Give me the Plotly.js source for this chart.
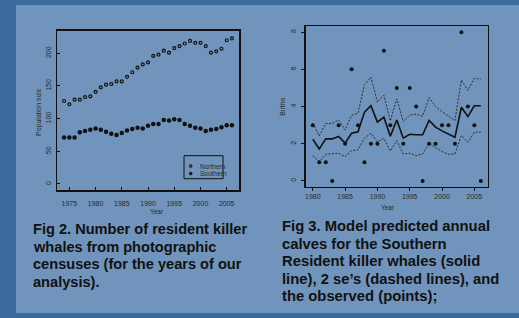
<!DOCTYPE html>
<html>
<head>
<meta charset="utf-8">
<script src="https://cdn.plot.ly/plotly-3.0.1.min.js"></script>
<style>
html,body{margin:0;padding:0;background:#3b6a9e;}
#chart{width:519px;height:318px;}
</style>
</head>
<body>
<div id="chart"></div>
<script>
// ---- Fig 2 data: population size ----
const popYears = [1974,1975,1976,1977,1978,1979,1980,1981,1982,1983,1984,1985,1986,1987,1988,1989,1990,1991,1992,1993,1994,1995,1996,1997,1998,1999,2000,2001,2002,2003,2004,2005,2006];
const northern = [127,122,129,129,133,134,141,148,152,153,157,157,164,171,178,183,186,196,198,204,201,208,211,215,219,216,216,211,201,203,207,220,223];
const southern = [71,71,71,79,81,83,85,83,80,77,75,78,82,84,86,85,89,92,92,98,97,99,98,92,89,86,85,81,83,84,87,90,90];

// ---- Fig 3 data: births ----
const birthYears = [1980,1981,1982,1983,1984,1985,1986,1987,1988,1989,1990,1991,1992,1993,1994,1995,1996,1997,1998,1999,2000,2001,2002,2003,2004,2005,2006];
const observed  = [3,1,1,0,3,2,6,3,1,2,2,7,3,5,2,5,4,0,2,2,3,3,2,8,4,3,0];
const predicted = [2.24,1.72,2.26,2.26,2.39,2.03,2.56,2.64,3.70,4.05,3.16,3.43,2.40,3.28,2.30,2.51,2.48,2.48,3.25,2.89,2.69,2.51,2.35,3.96,3.46,4.04,4.04];
const upper2se  = [3.10,2.42,3.09,3.09,3.28,2.74,3.52,3.64,5.17,5.58,4.23,4.61,3.23,4.41,3.19,3.55,3.59,3.48,4.48,4.00,3.73,3.50,3.25,5.43,4.86,5.52,5.47];
const lower2se  = [1.35,1.04,1.43,1.47,1.49,1.31,1.63,1.67,2.30,2.56,2.10,2.28,1.61,2.17,1.45,1.49,1.36,1.45,2.03,1.79,1.58,1.43,1.45,2.44,2.08,2.62,2.62];

const popTicks = [0,50,100,150,200];
const popXTicks = [1975,1980,1985,1990,1995,2000,2005];
const birthTicks = [0,2,4,6,8];
const birthXTicks = [1980,1985,1990,1995,2000,2005];

const caption2 = ["Fig 2.", "Number of resident killer", "whales from photographic", "censuses (for the years of our", "analysis)."];
const caption3 = ["Fig 3. Model predicted annual", "calves for the Southern", "Resident killer whales (solid", "line), 2 se’s (dashed lines), and", "the observed (points);"];

const W = 519, H = 318;
const px = x => x / W;
const py = y => 1 - y / H;

const ink = '#111';
const fam = 'Liberation Sans, Arial, sans-serif';
const tickFont = {family: fam, size: 7, color: '#2a2a2a'};

const traces = [
  {x: popYears, y: northern, type: 'scatter', mode: 'markers', name: 'Northern', xaxis: 'x', yaxis: 'y',
   marker: {symbol: 'circle-open', size: 3, color: ink, line: {width: 1.2, color: ink}}},
  {x: popYears, y: southern, type: 'scatter', mode: 'markers', name: 'Southern', xaxis: 'x', yaxis: 'y',
   marker: {symbol: 'circle', size: 4.5, color: ink}},
  {x: birthYears, y: upper2se, type: 'scatter', mode: 'lines', xaxis: 'x2', yaxis: 'y2',
   line: {color: '#2b2b2b', width: 1, dash: '2px,1.5px'}},
  {x: birthYears, y: lower2se, type: 'scatter', mode: 'lines', xaxis: 'x2', yaxis: 'y2',
   line: {color: '#2b2b2b', width: 1, dash: '2px,1.5px'}},
  {x: birthYears, y: predicted, type: 'scatter', mode: 'lines', xaxis: 'x2', yaxis: 'y2',
   line: {color: ink, width: 1.6}},
  {x: birthYears, y: observed, type: 'scatter', mode: 'markers', xaxis: 'x2', yaxis: 'y2',
   marker: {symbol: 'circle', size: 4, color: ink}}
];

const axisCommon = {
  showline: true, mirror: true, linecolor: ink, linewidth: 1.5,
  showgrid: false, zeroline: false, tickfont: tickFont,
  tickcolor: ink, tickwidth: 1, ticklen: 3
};

const cap2Font = {family: fam, size: 14.6, color: '#111'};
const cap3Font = {family: fam, size: 14.8, color: '#111'};
const smallFont = {family: fam, size: 6.5, color: '#2a2a2a'};

const annotations = [];

const cap2Y = [229, 246.7, 264, 281.5];
const cap2Lines = ['<b>' + caption2[0] + ' ' + caption2[1] + '</b>'].concat(caption2.slice(2).map(s => '<b>' + s + '</b>'));
cap2Lines.forEach((t, i) => annotations.push({xref: 'paper', yref: 'paper', x: px(30.5), y: py(cap2Y[i]), xanchor: 'left', yanchor: 'middle', showarrow: false, font: cap2Font, text: t}));

const cap3Y = [226, 243.5, 261, 278.5, 296];
caption3.forEach((t, i) => annotations.push({xref: 'paper', yref: 'paper', x: px(280.2), y: py(cap3Y[i]), xanchor: 'left', yanchor: 'middle', showarrow: false, font: cap3Font, text: '<b>' + t + '</b>'}));

annotations.push(
  {xref: 'paper', yref: 'paper', x: px(32.3), y: py(111.7), textangle: -90, showarrow: false, font: {family: fam, size: 7, color: '#2a2a2a'}, text: 'Population size'},
  {xref: 'paper', yref: 'paper', x: px(147.7), y: py(216.7), showarrow: false, font: smallFont, text: 'Year'},
  {xref: 'paper', yref: 'paper', x: px(281.7), y: py(107), textangle: -90, showarrow: false, font: {family: fam, size: 7, color: '#2a2a2a'}, text: 'Births'},
  {xref: 'paper', yref: 'paper', x: px(396.7), y: py(213.3), showarrow: false, font: smallFont, text: 'Year'},
  {xref: 'paper', yref: 'paper', x: px(198), y: py(166), xanchor: 'left', showarrow: false, font: smallFont, text: 'Northern'},
  {xref: 'paper', yref: 'paper', x: px(198), y: py(173.5), xanchor: 'left', showarrow: false, font: smallFont, text: 'Southern'}
);

const shapes = [
  {type: 'rect', xref: 'paper', yref: 'paper', x0: px(16), x1: px(519), y0: py(313), y1: py(5), fillcolor: '#7094bb', line: {width: 0}, layer: 'below'},
  {type: 'rect', xref: 'paper', yref: 'paper', x0: px(184), x1: px(223), y0: py(178.7), y1: py(155.7), line: {color: ink, width: 1}},
  {type: 'circle', xref: 'paper', yref: 'paper', x0: px(189.5), x1: px(191.9), y0: py(167.2), y1: py(164.8), line: {color: ink, width: 1.1}},
  {type: 'circle', xref: 'paper', yref: 'paper', x0: px(189.2), x1: px(192.2), y0: py(175), y1: py(172), fillcolor: ink, line: {color: ink, width: 0.5}}
];

const layout = {
  width: W, height: H,
  margin: {l: 0, r: 0, t: 0, b: 0},
  paper_bgcolor: '#3b6a9e',
  plot_bgcolor: 'rgba(0,0,0,0)',
  showlegend: false,
  xaxis: Object.assign({}, axisCommon, {domain: [px(57), px(239.3)], range: [1972.65, 2007.4], tickvals: popXTicks, ticks: 'inside', anchor: 'y', ticklabelstandoff: 6}),
  yaxis: Object.assign({}, axisCommon, {domain: [py(190), py(30.7)], range: [-9.2, 234.6], tickvals: popTicks, ticks: 'inside', tickangle: -90, anchor: 'x', ticklabelstandoff: 2}),
  xaxis2: Object.assign({}, axisCommon, {domain: [px(305.7), px(487.7)], range: [1978.9, 2007.07], tickvals: birthXTicks, ticks: 'outside', anchor: 'y2', ticklabelstandoff: -1}),
  yaxis2: Object.assign({}, axisCommon, {domain: [py(186.7), py(26)], range: [-0.31, 8.33], tickvals: birthTicks, ticks: 'outside', tickangle: -90, anchor: 'x2', ticklabelstandoff: 2}),
  annotations: annotations,
  shapes: shapes
};

Plotly.newPlot('chart', traces, layout, {staticPlot: true, displayModeBar: false});
</script>
</body>
</html>
